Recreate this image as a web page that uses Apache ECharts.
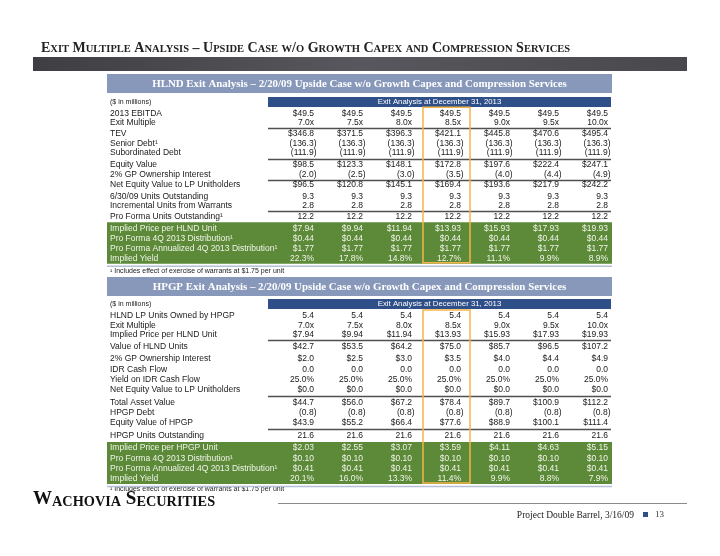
<!DOCTYPE html>
<html><head><meta charset="utf-8">
<script src="https://cdn.jsdelivr.net/npm/echarts@6/dist/echarts.min.js"></script>
<style>html,body{margin:0;padding:0;background:#fff}#main{width:720px;height:556px}</style>
</head><body><div id="main"></div>
<script>
// ================= DATA =================
const exitMultiples = [7.0, 7.5, 8.0, 8.5, 9.0, 9.5, 10.0];
const selectedCase = 3; // 8.5x column highlighted

// HLND table
const hlndRowLabels = ['2013 EBITDA','Exit Multiple','TEV','Senior Debt\u00b9','Subordinated Debt','Equity Value',
  '2% GP Ownership Interest','Net Equity Value to LP Unitholders','6/30/09 Units Outstanding',
  'Incremental Units from Warrants','Pro Forma Units Outstanding\u00b9','Implied Price per HLND Unit',
  'Pro Forma 4Q 2013 Distribution\u00b9','Pro Forma Annualized 4Q 2013 Distribution\u00b9','Implied Yield'];
const ebitda2013 = [49.5, 49.5, 49.5, 49.5, 49.5, 49.5, 49.5];
const tev = [346.8, 371.5, 396.3, 421.1, 445.8, 470.6, 495.4];
const seniorDebt = [-136.3, -136.3, -136.3, -136.3, -136.3, -136.3, -136.3];
const subordinatedDebt = [-111.9, -111.9, -111.9, -111.9, -111.9, -111.9, -111.9];
const equityValue = [98.5, 123.3, 148.1, 172.8, 197.6, 222.4, 247.1];
const gpInterest = [-2.0, -2.5, -3.0, -3.5, -4.0, -4.4, -4.9];
const netEquityLP = [96.5, 120.8, 145.1, 169.4, 193.6, 217.9, 242.2];
const unitsOutstanding = [9.3, 9.3, 9.3, 9.3, 9.3, 9.3, 9.3];
const warrantUnits = [2.8, 2.8, 2.8, 2.8, 2.8, 2.8, 2.8];
const proFormaUnits = [12.2, 12.2, 12.2, 12.2, 12.2, 12.2, 12.2];
const hlndPrice = [7.94, 9.94, 11.94, 13.93, 15.93, 17.93, 19.93];
const hlndDist4Q = [0.44, 0.44, 0.44, 0.44, 0.44, 0.44, 0.44];
const hlndDistAnnual = [1.77, 1.77, 1.77, 1.77, 1.77, 1.77, 1.77];
const hlndYield = [22.3, 17.8, 14.8, 12.7, 11.1, 9.9, 8.9];

// HPGP table
const hpgpRowLabels = ['HLND LP Units Owned by HPGP','Exit Multiple','Implied Price per HLND Unit','Value of HLND Units',
  '2% GP Ownership Interest','IDR Cash Flow','Yield on IDR Cash Flow','Net Equity Value to LP Unitholders',
  'Total Asset Value','HPGP Debt','Equity Value of HPGP','HPGP Units Outstanding','Implied Price per HPGP Unit',
  'Pro Forma 4Q 2013 Distribution\u00b9','Pro Forma Annualized 4Q 2013 Distribution\u00b9','Implied Yield'];
const hlndUnitsOwned = [5.4, 5.4, 5.4, 5.4, 5.4, 5.4, 5.4];
const hlndUnitsValue = [42.7, 53.5, 64.2, 75.0, 85.7, 96.5, 107.2];
const gpInterestValue = [2.0, 2.5, 3.0, 3.5, 4.0, 4.4, 4.9];
const idrCashFlow = [0.0, 0.0, 0.0, 0.0, 0.0, 0.0, 0.0];
const idrYield = [25.0, 25.0, 25.0, 25.0, 25.0, 25.0, 25.0];
const idrEquityValue = [0.0, 0.0, 0.0, 0.0, 0.0, 0.0, 0.0];
const totalAssetValue = [44.7, 56.0, 67.2, 78.4, 89.7, 100.9, 112.2];
const hpgpDebt = [-0.8, -0.8, -0.8, -0.8, -0.8, -0.8, -0.8];
const hpgpEquityValue = [43.9, 55.2, 66.4, 77.6, 88.9, 100.1, 111.4];
const hpgpUnits = [21.6, 21.6, 21.6, 21.6, 21.6, 21.6, 21.6];
const hpgpPrice = [2.03, 2.55, 3.07, 3.59, 4.11, 4.63, 5.15];
const hpgpDist4Q = [0.10, 0.10, 0.10, 0.10, 0.10, 0.10, 0.10];
const hpgpDistAnnual = [0.41, 0.41, 0.41, 0.41, 0.41, 0.41, 0.41];
const hpgpYield = [20.1, 16.0, 13.3, 11.4, 9.9, 8.8, 7.9];

// Texts
const pageTitle = 'Exit Multiple Analysis \u2013 Upside Case w/o Growth Capex and Compression Services';
const hlndTitle = 'HLND Exit Analysis \u2013 2/20/09 Upside Case w/o Growth Capex and Compression Services';
const hpgpTitle = 'HPGP Exit Analysis \u2013 2/20/09 Upside Case w/o Growth Capex and Compression Services';
const periodLabel = 'Exit Analysis at December 31, 2013';
const unitsNote = '($ in millions)';
const footnote = '\u00b9 Includes effect of exercise of warrants at $1.75 per unit';
const brand = 'Wachovia Securities';
const footerText = 'Project Double Barrel, 3/16/09';
const pageNumber = '13';

// ================= LAYOUT / STYLE =================
const SANS = '"Liberation Sans", Arial, sans-serif';
const SERIF = '"Liberation Serif", "Times New Roman", serif';
const C = { text:'#1a1a1a', green:'#5c8a38', greenText:'#f0f4ea', head:'#8798ba', blue:'#2f4f88', orange:'#f5b548', rule:'#505050', soft:'#b3c0d6' };
const tableLeft = 268, tableWidth = 343, boxLeft = 107, boxRight = 612, labelX = 110;

const hlnd = {
  rows: [
    [hlndRowLabels[0], ebitda2013, 'usd1'], [hlndRowLabels[1], exitMultiples, 'x'], [hlndRowLabels[2], tev, 'usd1'],
    [hlndRowLabels[3], seniorDebt, 'num1'], [hlndRowLabels[4], subordinatedDebt, 'num1'], [hlndRowLabels[5], equityValue, 'usd1'],
    [hlndRowLabels[6], gpInterest, 'num1'], [hlndRowLabels[7], netEquityLP, 'usd1'], [hlndRowLabels[8], unitsOutstanding, 'num1'],
    [hlndRowLabels[9], warrantUnits, 'num1'], [hlndRowLabels[10], proFormaUnits, 'num1'], [hlndRowLabels[11], hlndPrice, 'usd2'],
    [hlndRowLabels[12], hlndDist4Q, 'usd2'], [hlndRowLabels[13], hlndDistAnnual, 'usd2'], [hlndRowLabels[14], hlndYield, 'pct']
  ],
  top: 113.3, pitch: 9.7, max: 16,
  slots: [0, 1.0, 2.1, 3.1, 4.1, 5.25, 6.3, 7.35, 8.55, 9.55, 10.65, 11.85, 12.9, 13.95, 15.0],
  greenFrom: 11, rulesAfter: [1, 4, 6, 9],
  headTop: 74, barTop: 97, noteY: 271
};
const hpgp = {
  rows: [
    [hpgpRowLabels[0], hlndUnitsOwned, 'num1'], [hpgpRowLabels[1], exitMultiples, 'x'], [hpgpRowLabels[2], hlndPrice, 'usd2'],
    [hpgpRowLabels[3], hlndUnitsValue, 'usd1'], [hpgpRowLabels[4], gpInterestValue, 'usd1'], [hpgpRowLabels[5], idrCashFlow, 'num1'],
    [hpgpRowLabels[6], idrYield, 'pct'], [hpgpRowLabels[7], idrEquityValue, 'usd1'], [hpgpRowLabels[8], totalAssetValue, 'usd1'],
    [hpgpRowLabels[9], hpgpDebt, 'num1'], [hpgpRowLabels[10], hpgpEquityValue, 'usd1'], [hpgpRowLabels[11], hpgpUnits, 'num1'],
    [hpgpRowLabels[12], hpgpPrice, 'usd2'], [hpgpRowLabels[13], hpgpDist4Q, 'usd2'], [hpgpRowLabels[14], hpgpDistAnnual, 'usd2'],
    [hpgpRowLabels[15], hpgpYield, 'pct']
  ],
  top: 316, pitch: 9.7, max: 17,
  slots: [0, 0.95, 1.9, 3.12, 4.43, 5.57, 6.52, 7.55, 8.97, 10.0, 11.03, 12.3, 13.62, 14.66, 15.73, 16.8],
  greenFrom: 12, rulesAfter: [2, 7, 10],
  headTop: 277, barTop: 299, noteY: 489.5
};

function fmt(v, kind) {
  const a = Math.abs(v);
  switch (kind) {
    case 'usd1': return v < 0 ? '(' + a.toFixed(1) + ')' : '$' + a.toFixed(1);
    case 'usd2': return '$' + a.toFixed(2);
    case 'x': return a.toFixed(1) + 'x';
    case 'pct': return a.toFixed(1) + '%';
    default: return v < 0 ? '(' + a.toFixed(1) + ')' : a.toFixed(1);
  }
}

function smallCaps(s) {
  let out = '', cur = null, buf = '';
  for (const ch of s) {
    const low = ch !== ch.toUpperCase();
    const k = low ? 's' : 'b';
    if (k !== cur) { if (buf) out += '{' + cur + '|' + buf + '}'; buf = ''; cur = k; }
    buf += low ? ch.toUpperCase() : ch;
  }
  if (buf) out += '{' + cur + '|' + buf + '}';
  return out;
}

// ============ SERIES ============
function tableSeries(t, gi) {
  const series = [];
  const deco = [], decoKind = [];
  const n = t.slots.length;
  deco.push([0, t.slots[t.greenFrom], t.slots[n - 1]]); decoKind.push('green');
  t.rulesAfter.forEach(r => { deco.push([0, t.slots[r], t.slots[r + 1]]); decoKind.push('rule'); });
  deco.push([selectedCase, t.slots[0], t.slots[n - 1]]); decoKind.push('box');
  series.push({
    type: 'custom', xAxisIndex: gi, yAxisIndex: gi, silent: true, z: 2, data: deco,
    renderItem(p, api) {
      const k = decoKind[p.dataIndex];
      const a = api.coord([api.value(0), api.value(1)]);
      const b = api.coord([api.value(0), api.value(2)]);
      if (k === 'green') {
        return { type: 'group', children: [
          { type: 'rect', shape: { x: boxLeft, y: a[1] - 6, width: boxRight - boxLeft, height: b[1] - a[1] + 11 }, style: { fill: C.green } },
          { type: 'line', shape: { x1: boxLeft, y1: b[1] + 7.5, x2: boxRight, y2: b[1] + 7.5 }, style: { stroke: C.soft, lineWidth: 1.5 } }
        ] };
      }
      if (k === 'rule') {
        const y = Math.round((a[1] + b[1]) / 2) + 0.5;
        return { type: 'line', shape: { x1: tableLeft, y1: y, x2: tableLeft + tableWidth, y2: y }, style: { stroke: C.rule, lineWidth: 1.3 } };
      }
      return { type: 'rect', z2: 10, shape: { x: a[0] - 16.5, y: a[1] - 6, width: 47, height: b[1] - a[1] + 10 },
        style: { fill: 'none', stroke: C.orange, lineWidth: 1.5 } };
    }
  });
  const cells = [], meta = [];
  t.rows.forEach((row, r) => {
    row[1].forEach((v, c) => {
      cells.push([c, t.slots[r]]);
      meta.push({ t: fmt(v, row[2]), paren: v < 0, green: r >= t.greenFrom });
    });
  });
  series.push({
    type: 'custom', xAxisIndex: gi, yAxisIndex: gi, silent: true, z: 5, data: cells,
    renderItem(p, api) {
      const m = meta[p.dataIndex];
      const pt = api.coord([api.value(0), api.value(1)]);
      const bw = api.size([1, 0])[0];
      return { type: 'text', style: { text: m.t, x: pt[0] + bw / 2 - 3 + (m.paren ? 2.5 : 0), y: pt[1],
        align: 'right', verticalAlign: 'middle', font: '8.5px ' + SANS, fill: m.green ? C.greenText : C.text } };
    }
  });
  series.push({
    type: 'custom', xAxisIndex: gi, yAxisIndex: gi, silent: true, z: 5,
    data: t.rows.map((row, r) => [0, t.slots[r]]),
    renderItem(p, api) {
      const pt = api.coord([api.value(0), api.value(1)]);
      const green = p.dataIndex >= t.greenFrom;
      return { type: 'text', style: { text: t.rows[p.dataIndex][0], x: labelX, y: pt[1], align: 'left', verticalAlign: 'middle',
        font: '8.5px ' + SANS, fill: green ? C.greenText : C.text } };
    }
  });
  return series;
}

function tableGraphics(t, title) {
  return [
    { type: 'rect', shape: { x: boxLeft, y: t.headTop, width: boxRight - boxLeft, height: 19 }, style: { fill: C.head } },
    { type: 'text', x: (boxLeft + boxRight) / 2, y: t.headTop + 10, style: { text: title, align: 'center', verticalAlign: 'middle',
      font: 'bold 10.9px ' + SERIF, fill: '#ffffff' } },
    { type: 'rect', shape: { x: tableLeft, y: t.barTop, width: tableWidth, height: 10 }, style: { fill: C.blue } },
    { type: 'text', x: tableLeft + tableWidth / 2, y: t.barTop + 5, style: { text: periodLabel, align: 'center', verticalAlign: 'middle',
      font: '7.8px ' + SANS, fill: '#ffffff' } },
    { type: 'text', x: labelX, y: t.barTop + 5.5, style: { text: unitsNote, align: 'left', verticalAlign: 'middle', font: '7px ' + SANS, fill: C.text } },
    { type: 'text', x: labelX, y: t.noteY, style: { text: footnote, align: 'left', verticalAlign: 'middle', font: '7px ' + SANS, fill: C.text } }
  ];
}

const graphics = [
  { type: 'text', x: 41, y: 48, style: { text: smallCaps(pageTitle), verticalAlign: 'middle',
    rich: { b: { font: 'bold 14px ' + SERIF, fill: '#222', verticalAlign: 'bottom', lineHeight: 14 },
            s: { font: 'bold 10.5px ' + SERIF, fill: '#222', verticalAlign: 'bottom', lineHeight: 14 } } } },
  { type: 'rect', shape: { x: 33, y: 57, width: 654, height: 14 },
    style: { fill: new echarts.graphic.LinearGradient(0, 0, 1, 0, [
      { offset: 0, color: '#3e3e43' }, { offset: 0.5, color: '#57575d' }, { offset: 1, color: '#48484d' }]) } },
  ...tableGraphics(hlnd, hlndTitle),
  ...tableGraphics(hpgp, hpgpTitle),
  { type: 'text', x: 33, y: 499.5, style: { text: smallCaps(brand), verticalAlign: 'middle',
    rich: { b: { font: 'bold 19px ' + SERIF, fill: '#111', verticalAlign: 'bottom', lineHeight: 19 },
            s: { font: 'bold 14.3px ' + SERIF, fill: '#111', verticalAlign: 'bottom', lineHeight: 19 } } } },
  { type: 'line', shape: { x1: 278, y1: 503.5, x2: 687, y2: 503.5 }, style: { stroke: '#8a8a8a', lineWidth: 1 } },
  { type: 'text', x: 634, y: 515, style: { text: footerText, align: 'right', verticalAlign: 'middle', font: '9.5px ' + SERIF, fill: '#222' } },
  { type: 'rect', shape: { x: 643, y: 512, width: 5, height: 5 }, style: { fill: C.blue } },
  { type: 'text', x: 655, y: 515, style: { text: pageNumber, align: 'left', verticalAlign: 'middle', font: '9px ' + SERIF, fill: '#333' } }
];

const gridOf = t => ({ left: tableLeft, width: tableWidth, top: t.top, height: t.max * t.pitch, containLabel: false, show: false });
const xAx = gi => ({ type: 'category', gridIndex: gi, data: exitMultiples.map(v => v.toFixed(1) + 'x'), show: false, boundaryGap: true });
const yAx = (gi, t) => ({ type: 'value', gridIndex: gi, min: 0, max: t.max, inverse: true, show: false });

const option = {
  animation: false,
  backgroundColor: '#ffffff',
  grid: [gridOf(hlnd), gridOf(hpgp)],
  xAxis: [xAx(0), xAx(1)],
  yAxis: [yAx(0, hlnd), yAx(1, hpgp)],
  series: [...tableSeries(hlnd, 0), ...tableSeries(hpgp, 1)],
  graphic: { elements: graphics }
};
const chart = echarts.init(document.getElementById('main'));
chart.setOption(option);
</script></body></html>
